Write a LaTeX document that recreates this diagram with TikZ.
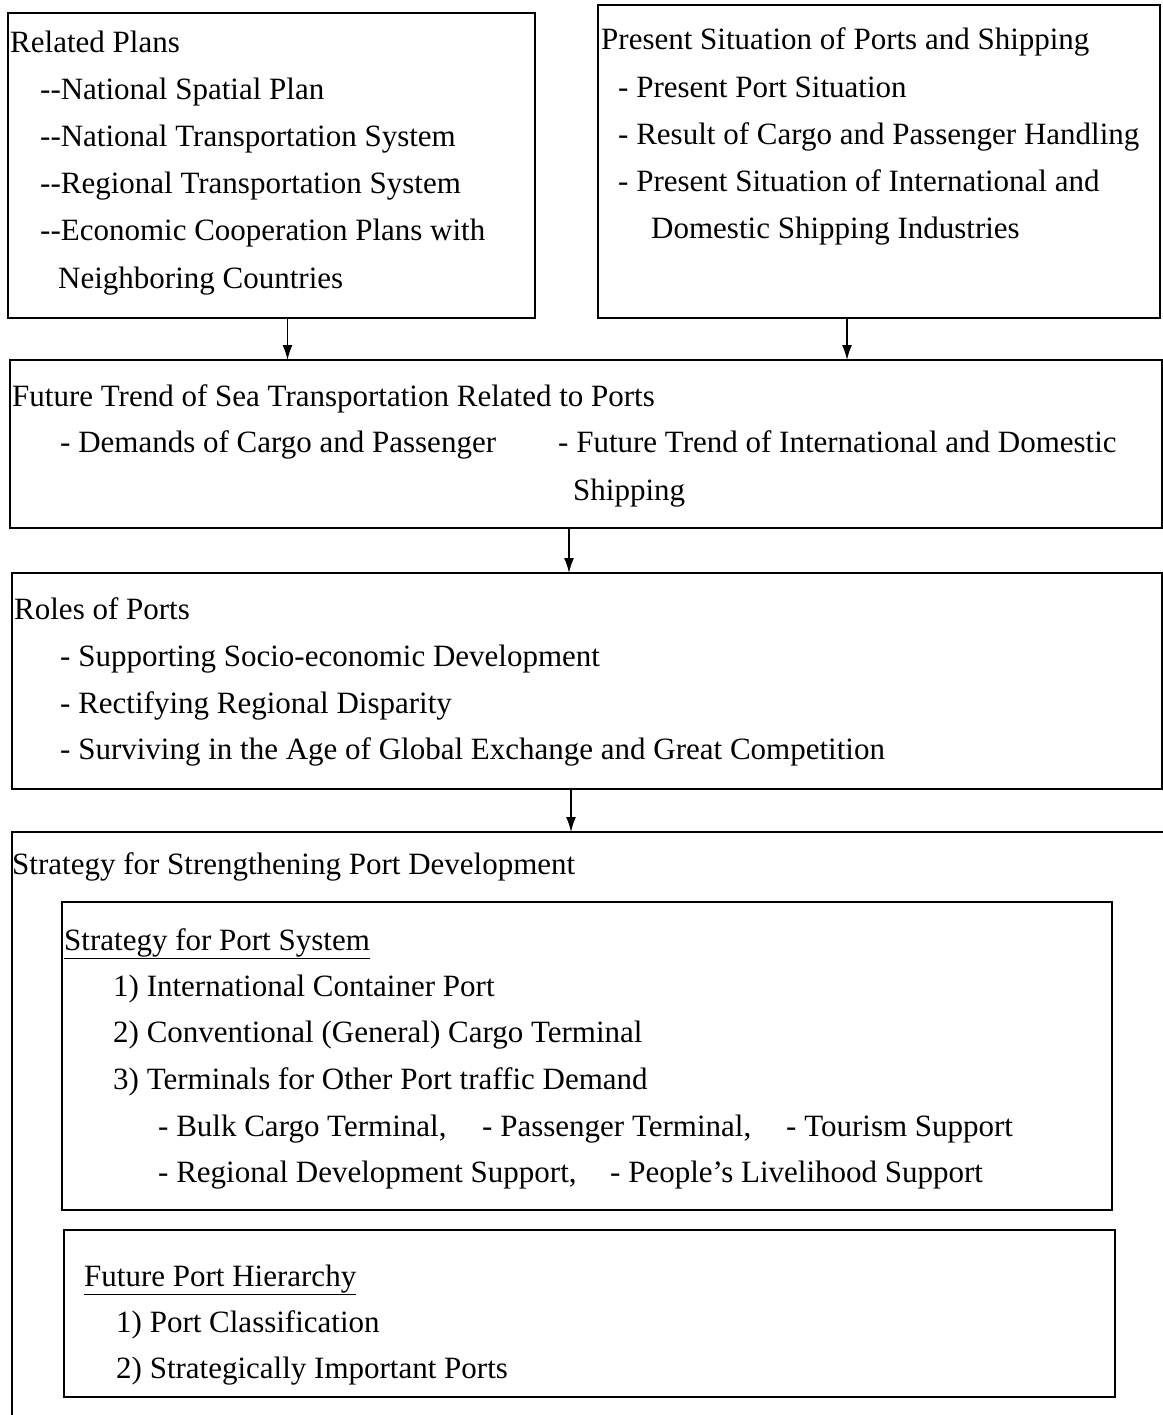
\documentclass[tikz,border=0pt]{standalone}
\usepackage{fontspec}
\setmainfont{Liberation Serif}
\usetikzlibrary{arrows.meta}
\begin{document}
\begin{tikzpicture}[x=1pt,y=-1pt,
  box/.style={draw, line width=1.6pt, rectangle, anchor=north west, inner sep=0pt, outer sep=0pt},
  txt/.style={anchor=base west, inner sep=0pt, font=\fontsize{31}{37}\selectfont},
  arr/.style={line width=1.5pt, -{Latex[length=15pt,width=10pt]}}]
\useasboundingbox (0,0) rectangle (1162,1415);
% boxes
\node[box, minimum width=527, minimum height=305] (rp) at (8,13) {};
\node[box, minimum width=562, minimum height=313] (ps) at (598,5) {};
\node[box, minimum width=1152, minimum height=168] (ft) at (10,360) {};
\node[box, minimum width=1150, minimum height=216] (ro) at (12,573) {};
\node[box, minimum width=1200, minimum height=620] (sb) at (12,832) {};
\node[box, minimum width=1050, minimum height=308] (sp) at (62,902) {};
\node[box, minimum width=1051, minimum height=167] (fh) at (64,1230) {};
% arrows
\draw[arr] ([xshift=16pt]rp.south) -- ([xshift=16pt]rp.south |- ft.north);
\draw[arr] ([xshift=-32pt]ps.south) -- ([xshift=-32pt]ps.south |- ft.north);
\draw[arr] ([xshift=-17pt]ft.south) -- ([xshift=-17pt]ft.south |- ro.north);
\draw[arr] ([xshift=-16pt]ro.south) -- ([xshift=-16pt]ro.south |- sb.north);
% Related plans
\node[txt] (t1) at (10,53) {Related Plans};
\node[txt] (t2) at (40,100) {-{}-National Spatial Plan};
\node[txt] (t3) at (40,147) {-{}-National Transportation System};
\node[txt] (t4) at (40,194) {-{}-Regional Transportation System};
\node[txt] (t5) at (40,241) {-{}-Economic Cooperation Plans with};
\node[txt] (t6) at (58,288) {Neighboring Countries};
% Present situation
\node[txt] (p1) at (601,50) {Present Situation of Ports and Shipping};
\node[txt] (p2) at (618,98) {- Present Port Situation};
\node[txt] (p3) at (618,145) {- Result of Cargo and Passenger Handling};
\node[txt] (p4) at (618,192) {- Present Situation of International and};
\node[txt] (p5) at (651,239) {Domestic Shipping Industries};
% Future trend
\node[txt] (f1) at (12,406) {Future Trend of Sea Transportation Related to Ports};
\node[txt] (f2) at (60,452) {- Demands of Cargo and Passenger};
\node[txt] (f3) at (558,452) {- Future Trend of International and Domestic};
\node[txt] (f4) at (573,500) {Shipping};
% Roles
\node[txt] (r1) at (14,619) {Roles of Ports};
\node[txt] (r2) at (60,666) {- Supporting Socio-economic Development};
\node[txt] (r3) at (60,713) {- Rectifying Regional Disparity};
\node[txt] (r4) at (60,759) {- Surviving in the Age of Global Exchange and Great Competition};
% Strategy
\node[txt] (s0) at (12,874) {Strategy for Strengthening Port Development};
\node[txt] (s1) at (64,950) {\underline{Strategy for Port System}};
\node[txt] (s2) at (113,996) {1) International Container Port};
\node[txt] (s3) at (113,1042) {2) Conventional (General) Cargo Terminal};
\node[txt] (s4) at (113,1089) {3) Terminals for Other Port traffic Demand};
\node[txt] (s5) at (158,1136) {- Bulk Cargo Terminal,};
\node[txt] (s6) at (482,1136) {- Passenger Terminal,};
\node[txt] (s7) at (786,1136) {- Tourism Support};
\node[txt] (s8) at (158,1182) {- Regional Development Support,};
\node[txt] (s9) at (610,1182) {- People’s Livelihood Support};
% Hierarchy
\node[txt] (h1) at (84,1286) {\underline{Future Port Hierarchy}};
\node[txt] (h2) at (116,1332) {1) Port Classification};
\node[txt] (h3) at (116,1378) {2) Strategically Important Ports};
\end{tikzpicture}
\end{document}
